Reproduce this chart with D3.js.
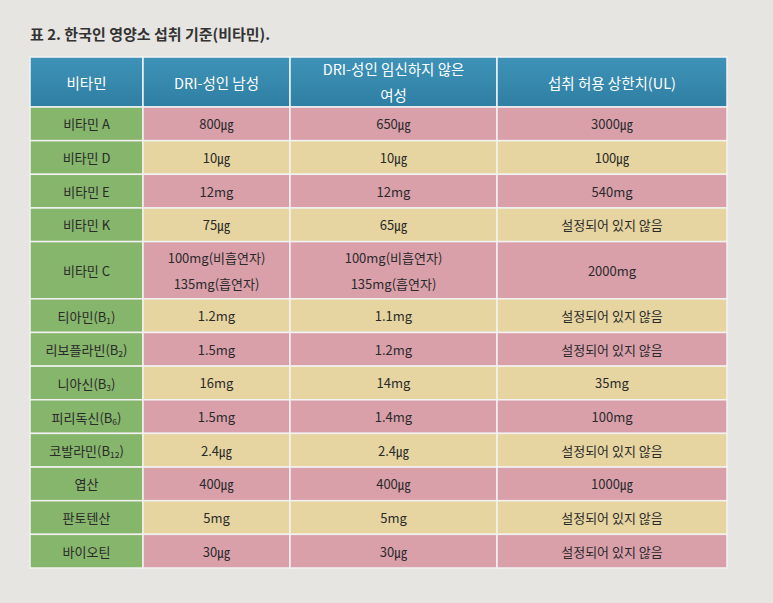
<!DOCTYPE html><html><head><meta charset="utf-8"><script src="https://cdn.jsdelivr.net/npm/d3@7"></script>
<style>body{margin:0;background:#e6e5e1}text{font-family:"Noto Sans CJK KR";}</style></head><body><svg id="c" width="773" height="603"></svg>
<script>
const title="표 2. 한국인 영양소 섭취 기준(비타민).";
const headers=["비타민","DRI-성인 남성","DRI-성인 임신하지 않은|여성","섭취 허용 상한치(UL)"];
const categories=["비타민 A","비타민 D","비타민 E","비타민 K","비타민 C","티아민(B_1)","리보플라빈(B_2)","니아신(B_3)","피리독신(B_6)","코발라민(B_12)","엽산","판토텐산","바이오틴"];
const male=["800㎍","10㎍","12mg","75㎍","100mg(비흡연자)|135mg(흡연자)","1.2mg","1.5mg","16mg","1.5mg","2.4㎍","400㎍","5mg","30㎍"];
const female=["650㎍","10㎍","12mg","65㎍","100mg(비흡연자)|135mg(흡연자)","1.1mg","1.2mg","14mg","1.4mg","2.4㎍","400㎍","5mg","30㎍"];
const ul=["3000㎍","100㎍","540mg","설정되어 있지 않음","2000mg","설정되어 있지 않음","설정되어 있지 않음","35mg","100mg","설정되어 있지 않음","1000㎍","설정되어 있지 않음","설정되어 있지 않음"];
const rowUnits=categories.map((c,i)=>i===4?1.7:1);
const svg=d3.select("#c");
svg.append("text").attr("x",30).attr("y",40).attr("font-size",15).attr("font-weight","bold").attr("fill","#333").text(title);
const colEdges=[30,143,290,497,727];
const x=d3.scaleLinear().domain([0,4]).range([0,0]);
const cx=i=>colEdges[i];
const cum=[0];rowUnits.forEach(u=>cum.push(cum[cum.length-1]+u));
const y=d3.scaleLinear().domain([0,cum[cum.length-1]]).range([107,568]);
const g=svg.append("g");
function label(sel,str,xc,yc,fs,fill){
  const lines=str.split("|");
  lines.forEach((ln,k)=>{
    const t=sel.append("text").attr("x",xc).attr("y",yc+(k-(lines.length-1)/2)*(lines.length>1?26:0)).attr("text-anchor","middle").attr("dominant-baseline","central").attr("font-size",fs).attr("fill",fill);
    const m=ln.match(/^(.*)_(\d+)(\).*)$/);
    if(m){t.append("tspan").text(m[1]);t.append("tspan").attr("font-size",fs*0.65).attr("dy",4).text(m[2]);t.append("tspan").attr("dy",-4).text(m[3]);}
    else t.text(ln);
  });
}
// header
const hy0=57,hy1=107;
const grad=svg.append("defs").append("linearGradient").attr("id","hg").attr("x1",0).attr("x2",0).attr("y1",0).attr("y2",1);
grad.append("stop").attr("offset",0).attr("stop-color","#3f93b8");grad.append("stop").attr("offset",1).attr("stop-color","#2f7ea3");
headers.forEach((h,i)=>{
  g.append("rect").attr("x",cx(i)).attr("y",hy0).attr("width",cx(i+1)-cx(i)).attr("height",hy1-hy0).attr("fill","url(#hg)").attr("stroke","#f2f2f2").attr("stroke-width",1.5);
  label(g,h,(cx(i)+cx(i+1))/2,(hy0+hy1)/2+(i===2?-1:0),14.5,"#fff");
});
categories.forEach((c,r)=>{
  const y0=y(cum[r]),y1=y(cum[r+1]);
  const rowFill=(r<5?r%2===0:r%2===0)?"#d9a0aa":"#e6d5a0";
  const vals=[c,male[r],female[r],ul[r]];
  vals.forEach((v,i)=>{
    g.append("rect").attr("x",cx(i)).attr("y",y0).attr("width",cx(i+1)-cx(i)).attr("height",y1-y0).attr("fill",i===0?"#86b56c":rowFill).attr("stroke","#f2f2f2").attr("stroke-width",1.5);
    label(g,v,(cx(i)+cx(i+1))/2,(y0+y1)/2,13,"#2a2a2a");
  });
});
</script></body></html>
